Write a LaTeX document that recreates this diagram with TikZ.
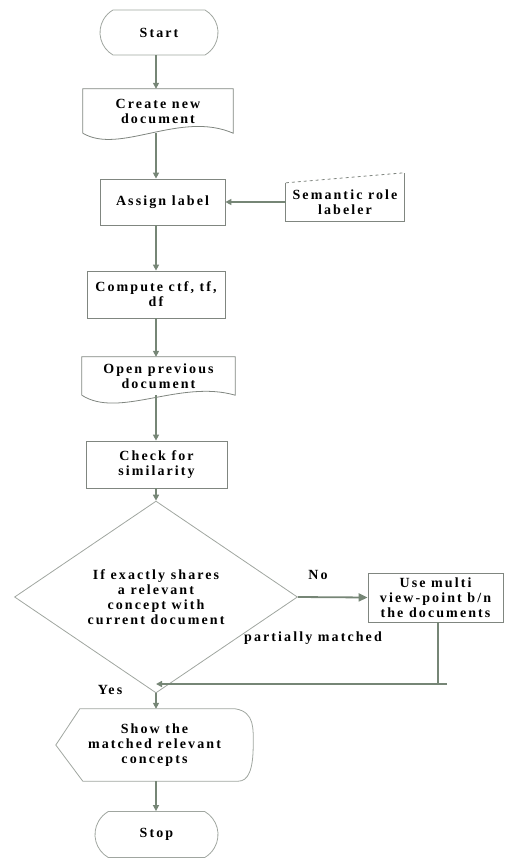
\documentclass[tikz,border=0pt]{standalone}
\usepackage{fontspec}
\setmainfont{Liberation Serif}
\usetikzlibrary{shapes.geometric,shapes.misc,arrows.meta,calc}

\definecolor{flowgreen}{RGB}{118,134,118}
\definecolor{edgegray}{RGB}{128,134,128}
\definecolor{softgray}{RGB}{160,166,160}

\begin{document}
\begin{tikzpicture}[x=1pt,y=-1pt,
  every node/.style={font=\fontsize{14}{15}\selectfont\bfseries\addfontfeatures{LetterSpace=15},
                     align=center, inner sep=0pt},
  box/.style={draw=edgegray, line width=0.8pt},
  term/.style={rounded rectangle, rounded rectangle arc length=120, draw=softgray, line width=0.8pt},
  decision/.style={diamond, draw=softgray, line width=0.8pt, minimum width=283pt, minimum height=150pt},
  link/.style={draw=flowgreen, line width=1.8pt},
  flow/.style={link, -{Triangle[length=6pt,width=6pt]}},
  bigflow/.style={link, -{Triangle[length=9pt,width=8pt]}}]

\useasboundingbox (0,0) rectangle (504,859);
\coordinate (axis) at (156,0);

% terminals
\node[term, minimum width=118pt, minimum height=45pt] (start) at (159,32.5) {Start};
\node[term, minimum width=123pt, minimum height=46pt] (stop) at (156.5,834.5) {Stop};

% document shapes
\node[minimum width=150pt, minimum height=44pt] (create) at (158,111) {Create new\\document};
\draw[box] (create.south west) -- (create.north west) -- (create.north east) -- (create.south east)
  .. controls +(-53,-23) and +(37,22) .. (create.south west);

\node[minimum width=153pt, minimum height=38pt] (open) at (158.5,376) {Open previous\\document};
\draw[box] (open.south west) -- (open.north west) -- (open.north east) -- (open.south east)
  .. controls +(-55,-16) and +(37,24) .. (open.south west);

% process boxes
\node[box, minimum width=125pt, minimum height=46pt] (assign) at (162.5,202) {Assign label};
\node[box, minimum width=138pt, minimum height=47pt] (compute) at (156,294.5) {Compute ctf, tf,\\df};
\node[box, minimum width=141pt, minimum height=47pt] (check) at (156.5,464.5) {Check for\\similarity};
\node[box, minimum width=135pt, minimum height=49pt] (multi) at (435.5,597.5) {Use multi\\view-point b/n\\the documents};

% manual input
\node[minimum width=118pt, minimum height=38pt] (semantic) at (345,202) {Semantic role\\labeler};
\draw[box] (semantic.north west) -- (semantic.south west) -- (semantic.south east) -- ($(semantic.north east)+(0,-10)$);
\draw[box, dashed] (semantic.north west) -- ($(semantic.north east)+(0,-10)$);

% decision
\node[decision] (decide) at (156,597) {If exactly shares\\a relevant\\concept with\\current document};

% display
\node[minimum width=197pt, minimum height=72pt] (show) at (154.5,745) {Show the\\matched relevant\\concepts};
\draw[draw=softgray, line width=0.8pt] (show.west) -- ($(show.north west)+(24,0)$) -- ($(show.north east)+(-18,0)$)
  .. controls +(20,3) and +(0,-15) .. (show.east)
  .. controls +(0,25) and +(10,0) .. ($(show.south east)+(-15,0)$)
  -- ($(show.south west)+(27,0)$) -- (show.west);

% labels
\node (no) at (318,575) {No};
\node (partial) at (313,638) {partially matched};
\node (yes) at (110,690) {Yes};

% connectors
\draw[flow] (start.south -| axis) -- (create.north -| axis);
\draw[flow] (create.south -| axis) -- (assign.north -| axis);
\draw[flow] (semantic.west) -- (assign.east);
\draw[flow] (assign.south -| axis) -- (compute.north -| axis);
\draw[flow] (compute.south -| axis) -- (open.north -| axis);
\draw[flow] (open.south -| axis) -- (check.north -| axis);
\draw[flow] (check.south -| axis) -- (decide.north);
\draw[bigflow] (decide.east) -- (multi.west);
\draw[flow] (decide.south) -- (show.north -| axis);
\coordinate (ret) at (438,684);
\draw[link] (multi.south -| ret) -- (ret);
\draw[flow] ($(ret)+(9,0)$) -- (ret -| axis);
\draw[flow] (show.south -| axis) -- (stop.north -| axis);

\end{tikzpicture}
\end{document}
